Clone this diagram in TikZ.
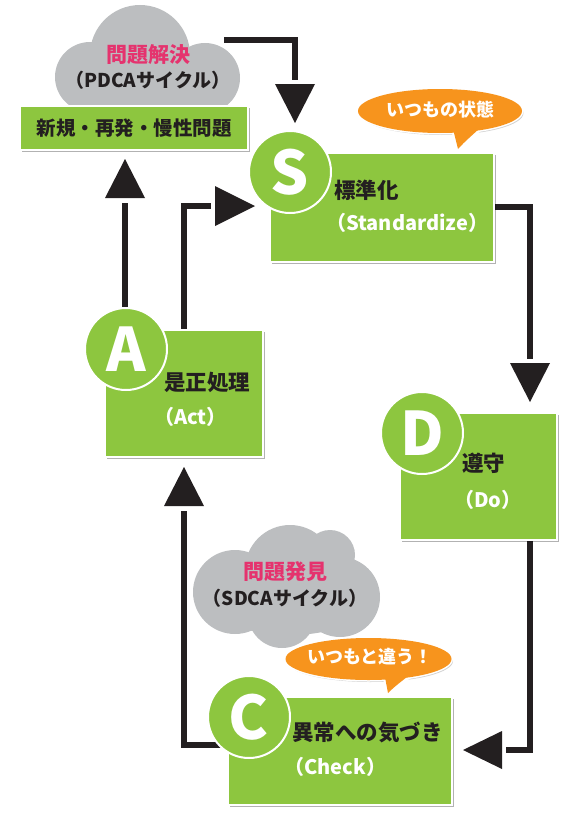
\documentclass[tikz,border=0pt]{standalone}
\usepackage{fontspec}
\setmainfont{Noto Sans CJK JP}
\usetikzlibrary{shadows}
\definecolor{grn}{HTML}{8DC63F}
\definecolor{org}{HTML}{F7941D}
\definecolor{cloudg}{HTML}{BCBEC0}
\definecolor{pinkc}{HTML}{E5336E}
\definecolor{ink}{HTML}{231F20}
\tikzset{
  conn/.style={draw=ink, line width=6.5pt, line cap=butt, line join=miter},
  head/.style={fill=ink},
  box/.style={rectangle, fill=grn, draw=white, line width=1.8pt, inner sep=0pt,
    drop shadow={shadow xshift=1.5pt, shadow yshift=-2pt, fill=black, opacity=.3}},
  circ/.style={circle, fill=grn, draw=white, line width=2pt, minimum size=82pt, inner sep=0pt,
    text=white, font=\bfseries\fontsize{60}{60}\selectfont},
  jp/.style={anchor=west, text=ink, font=\bfseries\fontsize{21.5}{23}\selectfont, inner sep=0pt},
  en/.style={anchor=west, text=white, font=\bfseries\fontsize{20}{22}\selectfont, inner sep=0pt},
  cloudtxt/.style={text=ink, font=\bfseries\fontsize{19}{21}\selectfont, inner sep=0pt},
  cloudttl/.style={text=pinkc, font=\bfseries\fontsize{21}{23}\selectfont, inner sep=0pt},
  bubtxt/.style={text=white, font=\bfseries\fontsize{18}{20}\selectfont, inner sep=0pt},
  bubfill/.style={fill=org},
  bubedge/.style={draw=white, line width=3pt, fill=org},
  bubshadow/.style={fill=black, opacity=.18},
}
\begin{document}
\begin{tikzpicture}[x=1pt,y=-1pt]
\useasboundingbox (0,0) rectangle (573,816);

% ---------- clouds ----------
\begin{scope}[fill=cloudg]
  \fill (140,55) circle [radius=50];
  \fill (90,77) circle [radius=35];
  \fill (205,78) circle [radius=35];
  \fill (148,92) ellipse [x radius=88, y radius=22];
\end{scope}
\node[cloudttl] (cl1t) at (148,55) {問題解決};
\node[cloudtxt] (cl1s) at (148,80) {（PDCAサイクル）};

\begin{scope}[fill=cloudg]
  \fill (290,570) circle [radius=45];
  \fill (235,592) circle [radius=42];
  \fill (340,597) circle [radius=40];
  \fill (330,555) circle [radius=25];
  \fill (282,614) circle [radius=34];
  \fill (290,600) ellipse [x radius=80, y radius=35];
\end{scope}
\node[cloudttl] (cl2t) at (285,572) {問題発見};
\node[cloudtxt] (cl2s) at (285,598) {（SDCAサイクル）};

% ---------- connectors ----------
\coordinate (p1a) at (224,40);
\coordinate (p1b) at (295,80);
\coordinate (t1) at (295,123);
\draw[conn] (p1a) -| (p1b);
\fill[head] (t1) -- ++(-20,-39) -- ++(40,0) -- cycle;

\coordinate (p2a) at (493,207);
\coordinate (p2b) at (530,359);
\coordinate (t2) at (530,402);
\draw[conn] (p2a) -| (p2b);
\fill[head] (t2) -- ++(-20,-39) -- ++(40,0) -- cycle;

\coordinate (p3a) at (530,540);
\coordinate (p3b) at (506,750);
\coordinate (t3) at (463,750);
\draw[conn] (p3a) |- (p3b);
\fill[head] (t3) -- ++(39,-19) -- ++(0,38) -- cycle;

\coordinate (p4a) at (230,745);
\coordinate (p4b) at (184,511);
\coordinate (t4) at (184,467);
\draw[conn] (p4a) -| (p4b);
\fill[head] (t4) -- ++(-20,39) -- ++(40,0) -- cycle;

\coordinate (p5a) at (125,312);
\coordinate (p5b) at (125,203);
\coordinate (t5) at (125,159);
\draw[conn] (p5a) -- (p5b);
\fill[head] (t5) -- ++(-20,39) -- ++(40,0) -- cycle;

\coordinate (p6a) at (184,332);
\coordinate (p6b) at (211,206);
\coordinate (t6) at (255,206);
\draw[conn] (p6a) |- (p6b);
\fill[head] (t6) -- ++(-40,-20) -- ++(0,40) -- cycle;

% ---------- boxes ----------
\node[box, minimum width=228pt, minimum height=44pt] (top) at (134,128) {};
\node[cloudtxt, font=\bfseries\fontsize{19.5}{21}\selectfont, anchor=center] (toptxt) at (top.center) {新規・再発・慢性問題};

\node[box, minimum width=224pt, minimum height=109pt] (Sbox) at (382,207.5) {};
\node[box, minimum width=157pt, minimum height=127pt] (Dbox) at (478.5,476.5) {};
\node[box, minimum width=158pt, minimum height=127pt] (Abox) at (184,393.5) {};
\node[box, minimum width=224pt, minimum height=108pt] (Cbox) at (340,751) {};

% ---------- speech bubbles ----------
\fill[bubshadow] (441.5,113) ellipse [x radius=82, y radius=22];
\path[bubedge] (440,111) ellipse [x radius=82, y radius=22];
\path[bubedge] (452,128) -- (458,149) .. controls (466,140) and (474,134) .. (484,127) -- cycle;
\fill[bubfill] (440,111) ellipse [x radius=82, y radius=22];
\fill[bubfill] (452,125) -- (458,149) .. controls (466,140) and (474,134) .. (484,124) -- cycle;
\node[bubtxt] (b1) at (440,110) {いつもの状態};

\fill[bubshadow] (370,661) ellipse [x radius=83, y radius=21];
\path[bubedge] (368.5,659) ellipse [x radius=83, y radius=21];
\path[bubedge] (384,675) -- (388,693) .. controls (395,686) and (402,681) .. (412,676) -- cycle;
\fill[bubfill] (368.5,659) ellipse [x radius=83, y radius=21];
\fill[bubfill] (384,672) -- (388,693) .. controls (395,686) and (402,681) .. (412,673) -- cycle;
\node[bubtxt] (b2) at (370,657) {いつもと違う！};

% ---------- circles ----------
\node[circ] (Sc) at (290,172) {S};
\node[circ] (Dc) at (422,433) {D};
\node[circ] (Ac) at (126,349) {A};
\node[circ] (Cc) at (249,717) {C};

% ---------- box texts ----------
\node[jp] (s1) at (334,190) {標準化};
\node[en] (s2) at (326,223) {（Standardize）};
\node[jp] (a1) at (164,382) {是正処理};
\node[en] (a2) at (154,417) {（Act）};
\node[jp] (d1) at (462,463) {遵守};
\node[en] (d2) at (454,500) {（Do）};
\node[jp] (c1) at (292,732) {異常への気づき};
\node[en] (c2) at (284,767) {（Check）};
\end{tikzpicture}
\end{document}
